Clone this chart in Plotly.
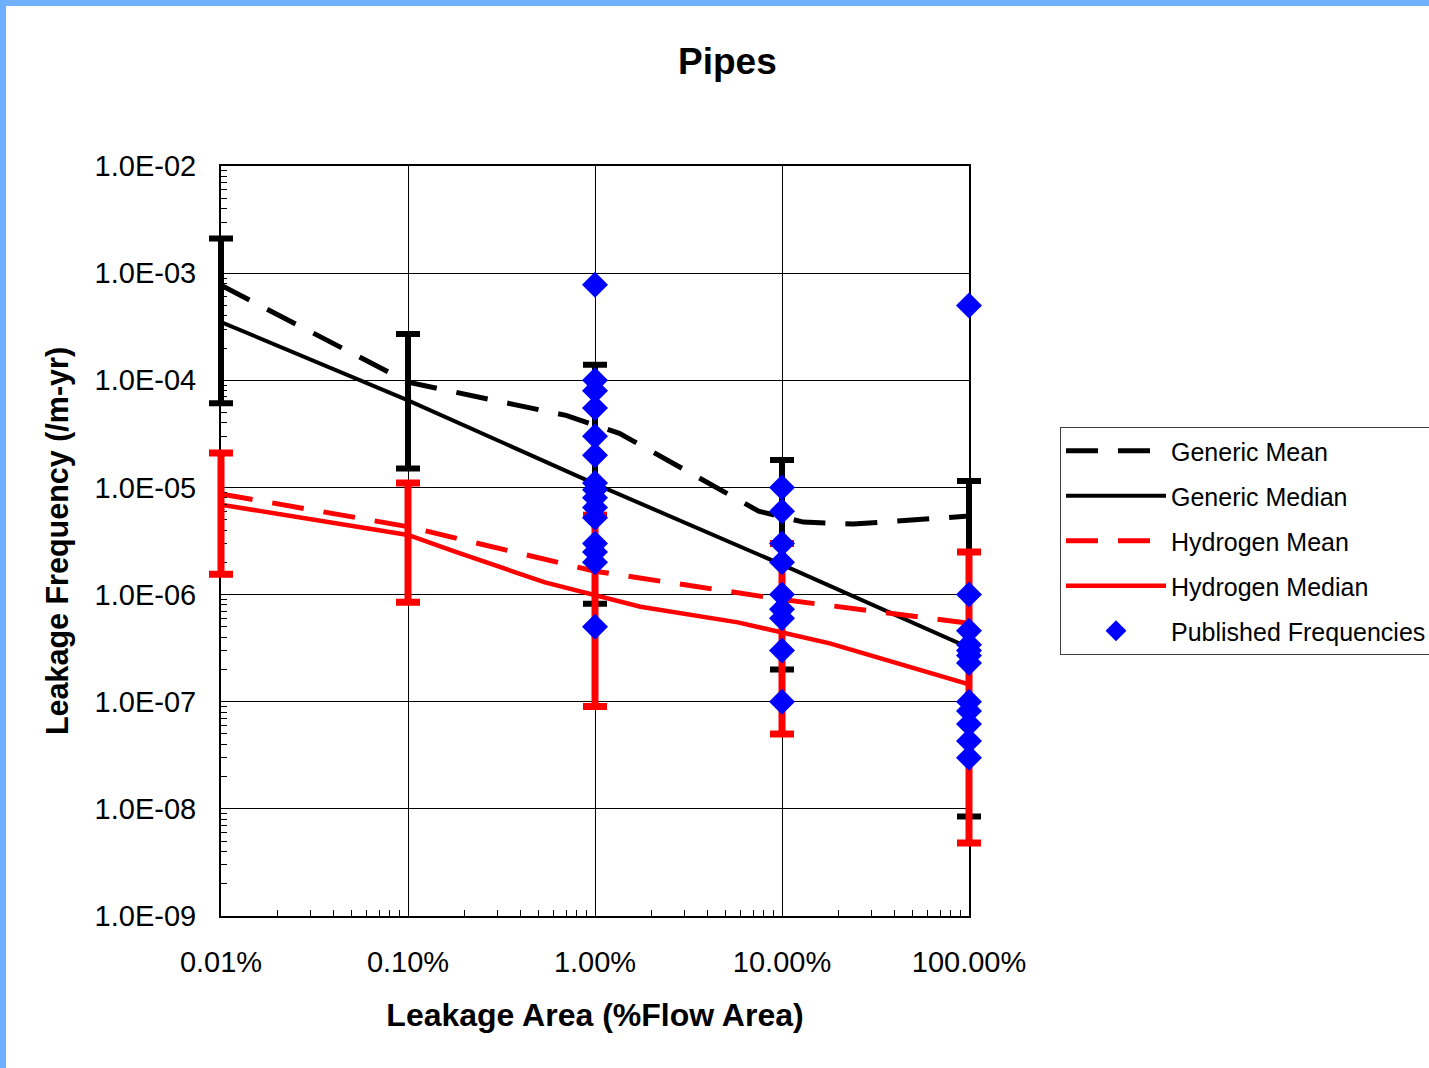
import plotly.graph_objects as go

# ---------------- data ----------------
area_pct = [0.01, 0.1, 1, 10, 100]
x_tick_text = ["0.01%", "0.10%", "1.00%", "10.00%", "100.00%"]

y_tick_vals = [1e-9, 1e-8, 1e-7, 1e-6, 1e-5, 1e-4, 1e-3, 1e-2]
y_tick_text = ["1.0E-09", "1.0E-08", "1.0E-07", "1.0E-06",
               "1.0E-05", "1.0E-04", "1.0E-03", "1.0E-02"]

generic_mean_x = [0.01, 0.1, 0.7, 1.35, 7.5, 13, 24, 100]
generic_mean_y = [7.7e-4, 9.6e-5, 4.7e-5, 3.2e-5, 6.0e-6, 4.75e-6, 4.55e-6, 5.4e-6]

generic_median_x = [0.01, 0.1, 1, 10, 100]
generic_median_y = [3.5e-4, 6.5e-5, 1.08e-5, 1.9e-6, 3.2e-7]

hydrogen_mean_x = [0.01, 0.1, 1, 10, 100]
hydrogen_mean_y = [8.7e-6, 4.3e-6, 1.65e-6, 9.0e-7, 5.4e-7]

hydrogen_median_x = [0.01, 0.1, 0.18, 0.54, 1.75, 5.8, 18, 100]
hydrogen_median_y = [6.9e-6, 3.6e-6, 2.5e-6, 1.3e-6, 7.7e-7, 5.5e-7, 3.5e-7, 1.45e-7]

# uncertainty bounds at each leakage size
generic_upper = [2.1e-3, 2.7e-4, 1.4e-4, 1.8e-5, 1.15e-5]
generic_lower = [6.1e-5, 1.5e-5, 8.2e-7, 2.0e-7, 8.5e-9]
hydrogen_upper = [2.1e-5, 1.1e-5, 5.5e-6, 3.0e-6, 2.5e-6]
hydrogen_lower = [1.55e-6, 8.5e-7, 9.0e-8, 5.0e-8, 4.8e-9]

published_x = ([1] * 15) + ([10] * 9) + ([100] * 12)
published_y = [
    7.8e-4, 1.0e-4, 8.0e-5, 5.5e-5, 3.0e-5, 2.0e-5, 1.1e-5, 9.5e-6,
    8.0e-6, 6.5e-6, 5.2e-6, 3.0e-6, 2.5e-6, 2.0e-6, 5.0e-7,
    1.0e-5, 6.0e-6, 3.0e-6, 2.0e-6, 1.0e-6, 7.3e-7, 6.0e-7, 3.0e-7, 1.0e-7,
    5.0e-4, 1.0e-6, 4.6e-7, 3.4e-7, 3.0e-7, 2.7e-7, 2.3e-7, 1.0e-7,
    8.2e-8, 6.2e-8, 4.3e-8, 3.0e-8,
]

FONT = "Liberation Sans, Arial, sans-serif"
DASH = "32px,20px"

# Plot frame: the visible axes sit inside a slightly wider frame so the
# range bars and markers on the 0.01% and 100% edges are not cut off.
FRAME_L, FRAME_R = 201, 440
FRAME_W = 1429 - FRAME_L - FRAME_R          # 788 px
PAD = 20                                     # px on each side of the axes
DECADE_PX = (FRAME_W - 2 * PAD) / 4          # px per decade on the x axis
X_PAD_DEC = PAD / DECADE_PX


def px_x(px):
    return (px - FRAME_L) / FRAME_W


def px_y(py):
    return (916 - py) / 750


fig = go.Figure()

# lines on the main axes
fig.add_trace(go.Scatter(x=generic_mean_x, y=generic_mean_y, mode="lines",
                         name="Generic Mean", legendgroup="a",
                         line=dict(color="black", width=5, dash=DASH)))
fig.add_trace(go.Scatter(x=generic_median_x, y=generic_median_y, mode="lines",
                         name="Generic Median", legendgroup="b",
                         line=dict(color="black", width=4)))
fig.add_trace(go.Scatter(x=hydrogen_mean_x, y=hydrogen_mean_y, mode="lines",
                         name="Hydrogen Mean", legendgroup="c",
                         line=dict(color="#ff0000", width=5, dash=DASH)))
fig.add_trace(go.Scatter(x=hydrogen_median_x, y=hydrogen_median_y, mode="lines",
                         name="Hydrogen Median", legendgroup="d",
                         line=dict(color="#ff0000", width=4.5)))


def range_bars(upper, lower, color, thick):
    return go.Scatter(
        x=area_pct, y=upper, mode="markers", xaxis="x2", yaxis="y2",
        cliponaxis=False,
        marker=dict(size=1, color="rgba(0,0,0,0)"),
        error_y=dict(type="data", symmetric=False,
                     array=[0] * len(upper),
                     arrayminus=[u - l for u, l in zip(upper, lower)],
                     color=color, thickness=thick, width=12),
        showlegend=False, hoverinfo="skip",
    )


# range bars and published points on the wider overlay frame
fig.add_trace(range_bars(generic_upper, generic_lower, "black", 6))
fig.add_trace(range_bars(hydrogen_upper, hydrogen_lower, "#ff0000", 7))
fig.add_trace(go.Scatter(x=published_x, y=published_y, mode="markers",
                         xaxis="x2", yaxis="y2",
                         name="Published Frequencies", legendgroup="e",
                         cliponaxis=False,
                         marker=dict(symbol="diamond", size=20, color="#0000ff",
                                     line=dict(width=0))))

minor_x = [k * 10 ** e for e in range(-2, 2) for k in range(2, 10)]
minor_y = [k * 10 ** e for e in range(-9, -2) for k in range(2, 10)]

fig.update_layout(
    width=1429, height=1068, autosize=False,
    paper_bgcolor="white", plot_bgcolor="rgba(0,0,0,0)",
    margin=dict(l=FRAME_L, r=FRAME_R, t=166, b=152, pad=0, autoexpand=False),
    font=dict(family=FONT, color="black"),
    title=dict(text="<b>Pipes</b>", x=0.509, xanchor="center",
               y=0.943, yanchor="middle",
               font=dict(size=37, family=FONT, color="black")),
    xaxis=dict(
        type="log", range=[-2, 2],
        domain=[PAD / FRAME_W, 1 - PAD / FRAME_W],
        tickmode="array", tickvals=area_pct, ticktext=x_tick_text,
        tickfont=dict(size=29), ticks="inside", ticklen=6, tickcolor="black",
        ticklabelstandoff=19,
        showgrid=True, gridcolor="black", gridwidth=1,
        showline=True, linecolor="black", linewidth=2, mirror=True,
        zeroline=False,
        minor=dict(tickmode="array", tickvals=minor_x, ticks="inside",
                   ticklen=6, tickcolor="black", showgrid=False),
        title=dict(text="<b>Leakage Area (%Flow Area)</b>",
                   font=dict(size=32), standoff=27),
    ),
    yaxis=dict(
        type="log", range=[-9, -2],
        tickmode="array", tickvals=y_tick_vals, ticktext=y_tick_text,
        tickfont=dict(size=29), ticks="inside", ticklen=6, tickcolor="black",
        ticklabelstandoff=17,
        showgrid=True, gridcolor="black", gridwidth=1,
        showline=True, linecolor="black", linewidth=2, mirror=True,
        zeroline=False,
        minor=dict(tickmode="array", tickvals=minor_y, ticks="inside",
                   ticklen=6, tickcolor="black", showgrid=False),
        title=dict(text="<b>Leakage Frequency (/m-yr)</b>",
                   font=dict(size=30.5), standoff=17),
    ),
    xaxis2=dict(
        type="log", range=[-2 - X_PAD_DEC, 2 + X_PAD_DEC],
        domain=[0, 1], anchor="y2", visible=False,
        showgrid=False, zeroline=False,
    ),
    yaxis2=dict(
        type="log", range=[-9, -2],
        domain=[0, 1], anchor="x2", visible=False,
        showgrid=False, zeroline=False,
    ),
    legend=dict(
        x=px_x(1060), y=px_y(427),
        xanchor="left", yanchor="top",
        bgcolor="white", bordercolor="#404040", borderwidth=1,
        font=dict(size=25, family=FONT, color="black"),
        itemwidth=100, tracegroupgap=9.5, traceorder="grouped",
    ),
    shapes=[
        dict(type="rect", xref="paper", yref="paper",
             x0=-1, x1=2, y0=px_y(6), y1=1.6,
             fillcolor="#72b1ff", line=dict(width=0), layer="above"),
        dict(type="rect", xref="paper", yref="paper",
             x0=-1, x1=px_x(6), y0=-1, y1=1.6,
             fillcolor="#6cafff", line=dict(width=0), layer="above"),
    ],
)

fig.write_html("out.html")
